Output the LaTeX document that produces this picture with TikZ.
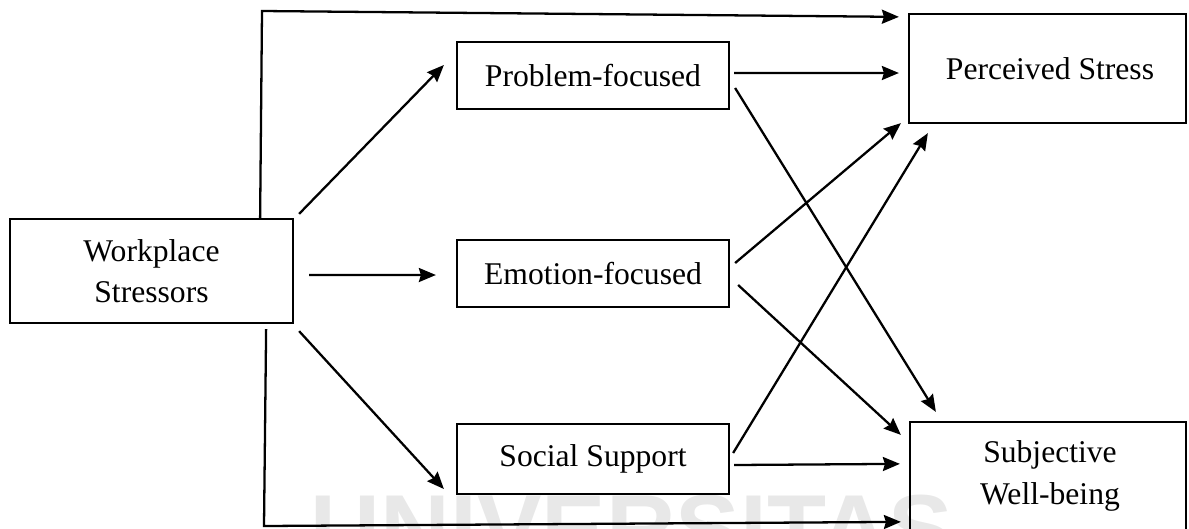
\documentclass[tikz,border=0pt]{standalone}
\usepackage{fontspec}
\setmainfont{Liberation Serif}
\newfontfamily\wmfont{Liberation Sans}
\usetikzlibrary{arrows.meta,calc}
\tikzset{
  box/.style={draw, line width=1.3pt, align=center, inner sep=0pt,
    font=\fontsize{18}{23.7}\selectfont},
  txt/.style={align=center, inner sep=0pt, font=\fontsize{18}{23.7}\selectfont},
  conn/.style={line width=1.3pt, -{Stealth[length=0.34cm,width=0.28cm,inset=0.04cm]}},
  plain/.style={line width=1.3pt}
}
\begin{document}
\begin{tikzpicture}[x=0.02cm, y=-0.02cm]
\useasboundingbox (0,0) rectangle (1189,528);
% watermark
\node[text=black!9, font=\wmfont\bfseries\fontsize{55}{60}\selectfont, anchor=base] (wm) at (632,562) {UNIVERSITAS};
% boxes
\node[box, minimum width=5.66cm, minimum height=2.08cm] (ws) at (151.5,271) {Workplace\\Stressors};
\node[box, minimum width=5.44cm, minimum height=1.34cm] (pf) at (593,75.5) {Problem-focused};
\node[box, minimum width=5.44cm, minimum height=1.34cm] (ef) at (593,273.5) {Emotion-focused};
\node[box, minimum width=5.44cm, minimum height=1.40cm] (ss) at (593,459) {Social Support};
\node[box, minimum width=5.54cm, minimum height=2.18cm] (ps) at (1047.5,68.5) {\hspace*{0.1cm}Perceived Stress};
\node[box, minimum width=5.52cm, minimum height=2.80cm] (swb) at (1048,492) {};
\node[txt] (swbt) at (1050,476) {Subjective\\Well-being};
% arrows from Workplace Stressors
\draw[conn] ($(ws.north east)+(5,-4)$) -- ($(pf.west)+(-12,-10.5)$);
\draw[conn] ($(ws.east)+(15,4)$) -- ($(ef.west)+(-20,1.5)$);
\draw[conn] ($(ws.south east)+(5,7)$) -- ($(ss.west)+(-12,30)$);
% direct paths
\draw[conn] ($(ws.north east)+(-34,0)$) -- (262,11) -- ($(ps.north west)+(-9,4)$);
\draw[conn] ($(ws.south east)+(-28,5)$) -- (264,526) -- ($(swb.north west)+(-8,101)$);
% from mediators
\draw[conn] ($(pf.east)+(4,-2.5)$) -- ($(ps.west)+(-9,4.5)$);
\draw[conn] ($(pf.east)+(5,12.5)$) -- ($(swb.north west)+(27,-9)$);
\draw[conn] ($(ef.east)+(5,-10.5)$) -- ($(ps.south west)+(-7,-1)$);
\draw[conn] ($(ef.east)+(8,11.5)$) -- ($(swb.north west)+(-8,14)$);
\draw[conn] ($(ss.east)+(3,-6)$) -- ($(ps.south west)+(20,9)$);
\draw[conn] ($(ss.east)+(4,6)$) -- ($(swb.north west)+(-9,43)$);
\end{tikzpicture}
\end{document}
